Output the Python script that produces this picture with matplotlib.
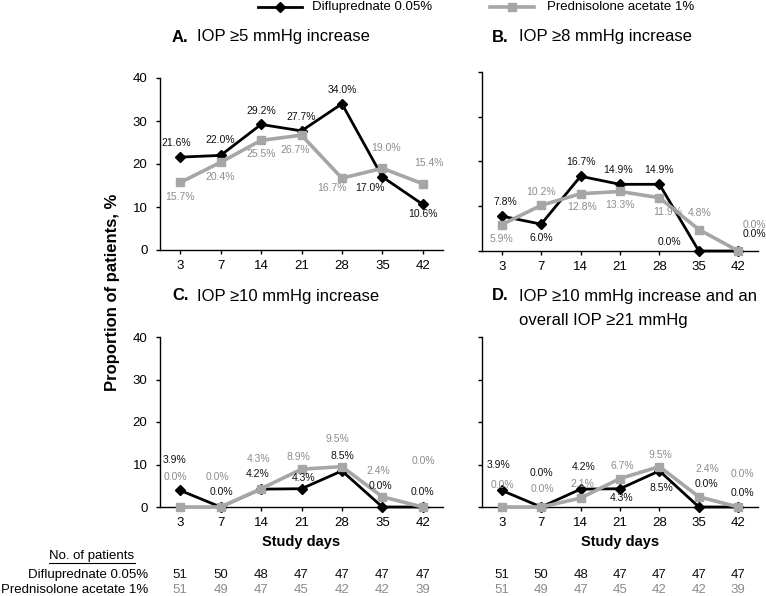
import matplotlib
matplotlib.use("Agg")
import matplotlib.pyplot as plt
from matplotlib.transforms import blended_transform_factory

plt.rcParams['font.family'] = ['Liberation Sans', 'DejaVu Sans']

# data
days = ["3", "7", "14", "21", "28", "35", "42"]
n_diflu = [51, 50, 48, 47, 47, 47, 47]
n_pred = [51, 49, 47, 45, 42, 42, 39]

a_diflu = [21.6, 22.0, 29.2, 27.7, 34.0, 17.0, 10.6]
a_pred = [15.7, 20.4, 25.5, 26.7, 16.7, 19.0, 15.4]
b_diflu = [7.8, 6.0, 16.7, 14.9, 14.9, 0.0, 0.0]
b_pred = [5.9, 10.2, 12.8, 13.3, 11.9, 4.8, 0.0]
c_diflu = [3.9, 0.0, 4.2, 4.3, 8.5, 0.0, 0.0]
c_pred = [0.0, 0.0, 4.3, 8.9, 9.5, 2.4, 0.0]
d_diflu = [3.9, 0.0, 4.2, 4.3, 8.5, 0.0, 0.0]
d_pred = [0.0, 0.0, 2.1, 6.7, 9.5, 2.4, 0.0]

# label offsets in pixels (dx, dy up)
a_diflu_off = [(-4, 14), (0, 15), (0, 13), (0, 14), (0, 14), (-12, -11), (0, -10)]
a_pred_off = [(0, -15), (0, -15), (0, -14), (-6, -15), (-10, -10), (4, 20), (6, 21)]
b_diflu_off = [(4, 14), (0, -14), (0, 14), (-2, 14), (0, 14), (-29, 9), (16, 17)]
b_pred_off = [(0, -14), (0, 13), (2, -13), (0, -14), (8, -14), (1, 17), (16, 26)]
c_diflu_off = [(-6, 30), (1, 15), (-3, 15), (2, 11), (0, 15), (-2, 21), (0, 15)]
c_pred_off = [(-5, 30), (-3, 30), (-3, 30), (-3, 12), (-5, 28), (-4, 26), (1, 46)]
d_diflu_off = [(-3, 25), (0, 34), (3, 22), (2, -9), (2, -17), (8, 23), (4, 14)]
d_pred_off = [(1, 22), (1, 18), (2, 14), (2, 13), (1, 12), (8, 28), (4, 33)]

BLACK = "#000000"
GRAY = "#a6a6a6"
W, H = 766, 596

fig = plt.figure(figsize=(W / 100, H / 100), dpi=100)


def px_axes(left, top, right, bottom):
    return fig.add_axes([left / W, 1 - bottom / H, (right - left) / W, (bottom - top) / H])


def draw_panel(ax, diflu, pred, doff, poff, ylabels):
    x = list(range(len(days)))
    ax.plot(x, diflu, color=BLACK, lw=2.0, marker="D", ms=5, zorder=3, clip_on=False)
    ax.plot(x, pred, color=GRAY, lw=2.6, marker="s", ms=5.5, zorder=4, clip_on=False)
    for i in x:
        ax.annotate(f"{diflu[i]:.1f}%", (i, diflu[i]), xytext=doff[i],
                    textcoords="offset pixels", ha="center", va="center",
                    fontsize=7.5, color="#111111", zorder=5)
        ax.annotate(f"{pred[i]:.1f}%", (i, pred[i]), xytext=poff[i],
                    textcoords="offset pixels", ha="center", va="center",
                    fontsize=7.5, color="#8c8c8c", zorder=5)
    ax.set_xlim(-0.5, len(days) - 0.5)
    ax.set_ylim(0, 40)
    ax.set_yticks([0, 10, 20, 30, 40])
    ax.set_xticks(x)
    ax.set_xticklabels(days, fontsize=9.5)
    if not ylabels:
        ax.set_yticklabels([])
    else:
        ax.tick_params(axis="y", labelsize=9.5)
    for s in ["top", "right"]:
        ax.spines[s].set_visible(False)
    for s in ["left", "bottom"]:
        ax.spines[s].set_linewidth(1.0)
    ax.tick_params(direction="out", length=3, width=1)
    ax.tick_params(axis="y", pad=6)
    ax.tick_params(axis="x", pad=4)
    ax.patch.set_alpha(0)


axA = px_axes(160, 78, 443, 250)
axB = px_axes(482, 72, 758, 251)
axC = px_axes(160, 337, 443, 507)
axD = px_axes(482, 337, 758, 507)

draw_panel(axA, a_diflu, a_pred, a_diflu_off, a_pred_off, True)
draw_panel(axB, b_diflu, b_pred, b_diflu_off, b_pred_off, False)
draw_panel(axC, c_diflu, c_pred, c_diflu_off, c_pred_off, True)
draw_panel(axD, d_diflu, d_pred, d_diflu_off, d_pred_off, False)

# overlay in pixel coordinates for titles, legend and table
ov = fig.add_axes([0, 0, 1, 1], zorder=-1)
ov.set_xlim(0, W)
ov.set_ylim(H, 0)
ov.axis("off")

# legend
ov.plot([258, 280, 302], [7, 7, 7], color=BLACK, lw=2.0, marker="D", ms=5, markevery=[1])
ov.plot([490, 512, 534], [7, 7, 7], color=GRAY, lw=2.6, marker="s", ms=5.5, markevery=[1])
ov.text(312, 7, "Difluprednate 0.05%", fontsize=9.5, va="center", ha="left")
ov.text(547, 7, "Prednisolone acetate 1%", fontsize=9.5, va="center", ha="left")

# titles
ov.text(172, 37, "A.", fontsize=12, fontweight="bold", va="center")
ov.text(197, 37, "IOP \u22655 mmHg increase", fontsize=12, va="center")
ov.text(492, 37, "B.", fontsize=12, fontweight="bold", va="center")
ov.text(519, 37, "IOP \u22658 mmHg increase", fontsize=12, va="center")
ov.text(172, 296, "C.", fontsize=12, fontweight="bold", va="center")
ov.text(197, 296, "IOP \u226510 mmHg increase", fontsize=12, va="center")
ov.text(492, 296, "D.", fontsize=12, fontweight="bold", va="center")
ov.text(519, 296, "IOP \u226510 mmHg increase and an", fontsize=12, va="center")
ov.text(519, 321, "overall IOP \u226521 mmHg", fontsize=12, va="center")

# y label
ov.text(112, 292, "Proportion of patients, %", fontsize=12, fontweight="bold",
        rotation=90, ha="center", va="center")

# x labels
ov.text(301, 542, "Study days", fontsize=10.5, fontweight="bold", ha="center", va="center")
ov.text(620, 542, "Study days", fontsize=10.5, fontweight="bold", ha="center", va="center")

# patient table
ov.text(92, 556, "No. of patients", fontsize=9.5, ha="center", va="center")
ov.plot([49, 135], [563, 563], color=BLACK, lw=0.8)
ov.text(148, 575, "Difluprednate 0.05%", fontsize=9.5, ha="right", va="center")
ov.text(148, 590, "Prednisolone acetate 1%", fontsize=9.5, ha="right", va="center")
for ax in [axC, axD]:
    tr = blended_transform_factory(ax.transData, ov.transData)
    for i in range(len(days)):
        ax.text(i, 575, str(n_diflu[i]), transform=tr, fontsize=9.5, ha="center",
                va="center", color="#111111")
        ax.text(i, 590, str(n_pred[i]), transform=tr, fontsize=9.5, ha="center",
                va="center", color="#8c8c8c")

fig.savefig("out.png", dpi=100)
